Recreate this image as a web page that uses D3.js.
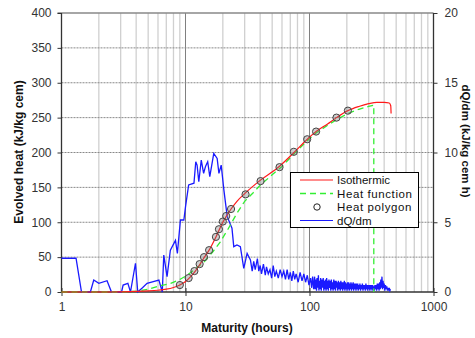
<!DOCTYPE html>
<html>
<head>
<meta charset="utf-8">
<script src="https://cdn.jsdelivr.net/npm/d3@7"></script>
<style>
  body { margin: 0; background: #fff; }
  svg { font-family: "Liberation Sans", Arial, sans-serif; }
</style>
</head>
<body>
<svg id="chart" width="475" height="338"></svg>
<script>
// Isothermic heat curve (maturity h, kJ/kg cem)
const isoM = [1, 2, 3, 4, 5, 6, 7, 8, 9, 10, 11, 12, 13, 14, 15.5, 17.6, 20, 23.3, 26, 30, 40, 57, 75, 96, 113, 140, 165, 204, 250, 300, 350, 400, 440, 452, 455];
const isoQ = [0, 0, 0.3, 0.8, 1.5, 2.5, 4, 6.5, 10, 15, 22, 30, 39, 48, 60, 79, 100, 119, 130, 141, 160, 180, 200, 219, 230, 241, 250, 260, 266, 270, 272, 272, 271, 267, 256];

// Heat function (dashed green)
const hfM = [1, 3, 4, 5, 6, 7.6, 9, 10.3, 12, 14.1, 16.5, 19.1, 22, 26, 30, 35, 40, 50, 60, 75, 96, 113, 140, 165, 204, 250, 300, 330, 330];
const hfQ = [0, 0, 1, 4, 8, 12.4, 18, 24, 33, 43, 57, 72, 90, 113, 130, 142, 153, 168, 180, 198, 217, 228, 239, 247, 256, 262, 266, 268, 0];

// Heat polygon points
const hpM = [9.0, 10.6, 11.8, 13.0, 14.1, 15.5, 17.6, 18.6, 20.0, 21.3, 23.3, 30.5, 40.3, 57.3, 74.7, 95.8, 113, 165, 204];
const hpQ = [10, 20, 30, 40, 50, 60, 79, 90, 101, 109, 119, 140, 159, 179, 201, 219, 230, 250, 260];

// dQ/dm rate [maturity h, kJ/kg cem h], right axis
const rateData = [
  [1, 2.42], [1.31, 2.42], [1.45, 0], [1.71, 0], [1.82, 0.86], [2.0, 0.62], [2.33, 0.81], [2.53, 0], [3.05, 0], [3.14, 0.5],
  [3.43, 0.62], [3.6, 0], [3.95, 2.06], [4.12, 0], [4.5, 0.3], [4.9, 0.62], [5.5, 0.75], [6.1, 0.86], [6.5, 0], [6.68, 2.65],
  [7.1, 1.1], [7.55, 3.0], [8.3, 3.7], [8.6, 2.77], [9.1, 5.16], [9.7, 5.16], [10, 6.1], [10.6, 7.67], [11.7, 7.8], [12.1, 9.34],
  [12.4, 9.1], [12.8, 7.9], [13.4, 9.46], [14, 8.5], [14.5, 9.0], [15.1, 9.34], [15.7, 8.27], [16.9, 9.94], [18, 9.58], [18.6, 8.5],
  [19.4, 9.1], [20.4, 7.3], [21.7, 5.4], [23.7, 4.57], [24.5, 3.25], [26, 3.37], [27.7, 3.25], [29.5, 1.7], [31.4, 2.77], [33.4, 2.3],
  [34.5, 1.5], [35.5, 2.2], [36.5, 1.6], [38, 2.4], [39, 1.5], [40, 1.9], [41, 1.3], [42.5, 2.0], [44, 1.2], [45, 1.8],
  [46.5, 1.3], [48, 1.6], [49.5, 1.0], [51, 1.9], [52.5, 1.1], [54, 1.5], [56, 1.0], [58, 1.6], [60, 1.1], [62, 1.5],
  [64, 0.9], [66, 1.6], [68, 0.9], [70, 1.4], [72, 0.8], [74, 1.5], [76, 0.9], [78, 1.3], [81, 0.7], [84, 1.4],
  [87, 0.8], [90, 1.3], [93, 0.7], [96, 1.2], [99, 0.5], [102, 1.0], [104, 0.3], [106, 1.1], [108, 0.2],
  [110, 1.1], [111, 0.2], [112.5, 0.9], [114, 0.1], [115, 1.0], [116.5, 0.3], [118, 1.2], [119, 0.1], [120.5, 0.8], [122, 0.2],
  [123, 1.0], [124.5, 0.1], [126, 0.9], [127.5, 0.3], [129, 1.0], [130.5, 0.1], [132, 0.8], [133, 0.2], [134.5, 0.9], [136, 0.1],
  [137.5, 1.0], [139, 0.2], [140.5, 0.8], [142, 0.1], [143.5, 0.9], [145, 0.3], [147, 0.8], [148.5, 0.1], [150, 0.9], [152, 0.2],
  [153.5, 0.7], [155, 0.1], [157, 0.9], [158.5, 0.2], [160, 0.8], [162, 0.1], [164, 0.8], [165.5, 0.3], [167, 0.7], [169, 0.1],
  [171, 0.8], [173, 0.2], [175, 0.7], [177, 0.1], [179, 0.8], [181, 0.2], [183, 0.7], [185, 0.1], [187, 0.7], [189, 0.2],
  [191, 0.8], [193, 0.1], [195, 0.7], [197, 0.2], [199, 0.6], [201, 0.1], [203, 0.7], [205, 0.2], [207, 0.7], [209, 0.1],
  [212, 0.6], [214, 0.2], [216, 0.7], [218, 0.1], [220, 0.6], [223, 0.2], [225, 0.7], [227, 0.1], [230, 0.6], [232, 0.2],
  [235, 0.6], [237, 0.1], [240, 0.6], [242, 0.2], [245, 0.6], [247, 0.1], [250, 0.5], [253, 0.2], [255, 0.6], [258, 0.1],
  [261, 0.5], [264, 0.2], [267, 0.6], [270, 0.1], [273, 0.5], [276, 0.2], [279, 0.5], [282, 0.1], [285, 0.6], [288, 0.2],
  [291, 0.5], [294, 0.1], [297, 0.5], [300, 0.2], [303, 0.5], [307, 0.1], [310, 0.5], [313, 0.2], [316, 0.5], [320, 0.1],
  [323, 0.5], [327, 0.2], [330, 0.4], [334, 0.1], [337, 0.5], [341, 0.2], [345, 0.5], [348, 0.1], [352, 0.6], [356, 0.2],
  [360, 0.6], [364, 0.1], [368, 0.7], [372, 0.2], [376, 0.9], [380, 0.3], [384, 1.1], [388, 0.2], [392, 0.8], [396, 0.3],
  [400, 0.6], [405, 0.1], [410, 0.5], [415, 0.2], [420, 0.4], [425, 0.1], [430, 0.3], [435, 0.1], [440, 0.3], [445, 0.1], [450, 0.2]
];

const xTicks = [1, 10, 100, 1000];
const yTicks = [0, 50, 100, 150, 200, 250, 300, 350, 400];
const y2Ticks = [0, 5, 10, 15, 20];
const legendItems = ["Isothermic", "Heat function", "Heat polygon", "dQ/dm"];

const pxL = 61.5, pxR = 433.5, pxT = 13, pxB = 292;
const svg = d3.select("#chart");

let scX = d3.scaleLog().domain([1, 1000]).range([pxL, pxR]);
let scY = d3.scaleLinear().domain([0, 400]).range([pxB, pxT]);
let scY2 = d3.scaleLinear().domain([0, 20]).range([pxB, pxT]);

// vertical grid: minor log lines light, decades darker
let minor = [];
[1, 10, 100].forEach(d => { for (let k = 2; k <= 9; k++) minor.push(d * k); });
svg.append("g").selectAll("line").data(minor).enter().append("line")
  .attr("x1", d => scX(d)).attr("x2", d => scX(d))
  .attr("y1", pxT).attr("y2", pxB)
  .attr("stroke", "#d0d0d0").attr("stroke-width", 1.3);
svg.append("g").selectAll("line").data([10, 100]).enter().append("line")
  .attr("x1", d => scX(d)).attr("x2", d => scX(d))
  .attr("y1", pxT).attr("y2", pxB)
  .attr("stroke", "#808080").attr("stroke-width", 1);

// horizontal grid, dashed
svg.append("g").selectAll("line").data(yTicks.filter(d => d > 0 && d < 400)).enter().append("line")
  .attr("x1", pxL).attr("x2", pxR)
  .attr("y1", d => scY(d)).attr("y2", d => scY(d))
  .attr("stroke", "#888").attr("stroke-dasharray", "2,1");
svg.append("line")
  .attr("x1", pxL - 4).attr("x2", pxR)
  .attr("y1", scY(400)).attr("y2", scY(400))
  .attr("stroke", "#888").attr("stroke-width", 1.3);

// axes
let axL = svg.append("g").attr("transform", `translate(${pxL},0)`)
  .call(d3.axisLeft(scY).tickValues(yTicks).tickSize(4).tickPadding(6));
let axR = svg.append("g").attr("transform", `translate(${pxR},0)`)
  .call(d3.axisRight(scY2).tickValues(y2Ticks).tickSize(4).tickPadding(7));
let axB = svg.append("g").attr("transform", `translate(0,${pxB})`)
  .call(d3.axisBottom(scX).tickValues(xTicks).tickFormat(d3.format("d")).tickSize(4).tickPadding(6));
[axL, axR, axB].forEach(a => {
  a.select(".domain").attr("stroke", "#333").attr("stroke-width", 1.3);
  a.selectAll(".tick line").attr("stroke", "#333");
  a.selectAll("text").attr("font-size", 12).attr("fill", "#333")
    .attr("font-family", "Liberation Sans, Arial, sans-serif");
});
axB.selectAll(".tick line").attr("y1", -4);
axB.select(".domain").attr("d", `M${pxL},0H${pxR}`);
axL.select(".domain").attr("d", `M0,${pxB}V${pxT}`);
axR.select(".domain").attr("d", `M0,${pxB}V${pxT}`);

// axis titles
svg.append("text").attr("transform", "translate(23,152) rotate(-90)")
  .attr("text-anchor", "middle").attr("font-size", 12).attr("font-weight", "bold")
  .attr("fill", "#111").text("Evolved  heat (kJ/kg cem)");
svg.append("text").attr("transform", "translate(462,141) rotate(90)")
  .attr("text-anchor", "middle").attr("font-size", 11.5).attr("font-weight", "bold")
  .attr("fill", "#111").text("dQ/dm (kJ/kg cem h)");
svg.append("text").attr("x", 247).attr("y", 332)
  .attr("text-anchor", "middle").attr("font-size", 12).attr("font-weight", "bold")
  .attr("fill", "#111").text("Maturity (hours)");

// dQ/dm
svg.append("path")
  .attr("fill", "none").attr("stroke", "#1a1aff").attr("stroke-width", 1.3)
  .attr("d", d3.line().x(d => scX(d[0])).y(d => scY2(d[1]))(rateData));

// heat function
let hf = hfM.map((m, i) => ({ m: m, q: hfQ[i] }));
svg.append("path")
  .attr("fill", "none").attr("stroke", "#33ee33").attr("stroke-width", 1.3)
  .attr("stroke-dasharray", "6,4")
  .attr("d", d3.line().x(d => scX(d.m)).y(d => scY(d.q))(hf));

// isothermic
let iso = isoM.map((m, i) => ({ m: m, q: isoQ[i] }));
svg.append("path")
  .attr("fill", "none").attr("stroke", "#ff1a1a").attr("stroke-width", 1.2)
  .attr("d", d3.line().curve(d3.curveMonotoneX).x(d => scX(d.m)).y(d => scY(d.q))(iso));

// heat polygon
let hp = hpM.map((m, i) => ({ m: m, q: hpQ[i] }));
svg.append("g").selectAll("circle").data(hp).enter().append("circle")
  .attr("cx", d => scX(d.m)).attr("cy", d => scY(d.q)).attr("r", 3.6)
  .attr("fill", "rgba(120,120,120,0.35)").attr("stroke", "#444").attr("stroke-width", 1);

// legend
let lg = svg.append("g");
lg.append("rect").attr("x", 290.5).attr("y", 172.5).attr("width", 128).attr("height", 55)
  .attr("fill", "#fff").attr("stroke", "#000").attr("stroke-width", 1);
legendItems.forEach((name, i) => {
  let yy = 180 + i * 13.5;
  if (i === 0) lg.append("line").attr("x1", 300).attr("x2", 333).attr("y1", yy).attr("y2", yy)
    .attr("stroke", "#ff1a1a").attr("stroke-width", 1.2);
  if (i === 1) lg.append("line").attr("x1", 300).attr("x2", 333).attr("y1", yy).attr("y2", yy)
    .attr("stroke", "#33ee33").attr("stroke-width", 1.3).attr("stroke-dasharray", "6,4");
  if (i === 2) lg.append("circle").attr("cx", 317).attr("cy", yy).attr("r", 3.2)
    .attr("fill", "none").attr("stroke", "#222");
  if (i === 3) lg.append("line").attr("x1", 300).attr("x2", 333).attr("y1", yy).attr("y2", yy)
    .attr("stroke", "#1a1aff").attr("stroke-width", 1.2);
  lg.append("text").attr("x", 337).attr("y", yy + 4).attr("font-size", 11.5)
    .attr("fill", "#111").attr("letter-spacing", i === 1 || i === 2 ? 0.6 : 0).text(name);
});
</script>
</body>
</html>
